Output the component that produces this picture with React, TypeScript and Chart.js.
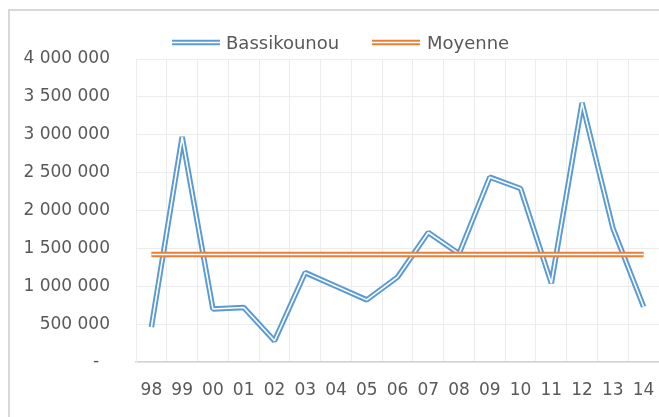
import { useEffect, useRef } from 'react';
import { Chart, registerables } from 'chart.js';

Chart.register(...registerables);

const categories = ['98', '99', '00', '01', '02', '03', '04', '05', '06', '07', '08', '09', '10', '11', '12', '13', '14'];
const bassikounou = [460000, 2970000, 700000, 720000, 280000, 1180000, 1000000, 820000, 1120000, 1710000, 1430000, 2440000, 2290000, 1040000, 3420000, 1770000, 730000];
const moyenne = [1420000, 1420000, 1420000, 1420000, 1420000, 1420000, 1420000, 1420000, 1420000, 1420000, 1420000, 1420000, 1420000, 1420000, 1420000, 1420000, 1420000];
const seriesNames = ['Bassikounou', 'Moyenne'];
const seriesColors = ['#5B9BD5', '#ED7D31'];

const FONT = '"DejaVu Sans", sans-serif';
const TEXT = '#595959';

function fmt(v: number): string {
  if (v === 0) return '-  ';
  return Math.round(v).toString().replace(/\B(?=(\d{3})+(?!\d))/g, ' ');
}

const framePlugin = {
  id: 'frameAndLegend',
  beforeDraw(chart: any) {
    const ctx = chart.ctx;
    ctx.save();
    ctx.fillStyle = '#ffffff';
    ctx.fillRect(0, 0, chart.width, chart.height);
    ctx.fillStyle = '#d9d9d9';
    ctx.fillRect(8, 9, chart.width - 8, 2);
    ctx.fillRect(8, 9, 2, chart.height - 9);
    ctx.restore();
  },
  afterDraw(chart: any) {
    const ctx = chart.ctx;
    ctx.save();
    const items = [
      { x: 172, tx: 226 },
      { x: 372, tx: 427 },
    ];
    items.forEach((it, i) => {
      ctx.lineCap = 'butt';
      ctx.strokeStyle = seriesColors[i];
      ctx.lineWidth = 5.5;
      ctx.beginPath();
      ctx.moveTo(it.x, 42.5);
      ctx.lineTo(it.x + 48, 42.5);
      ctx.stroke();
      ctx.strokeStyle = '#ffffff';
      ctx.lineWidth = 1.6;
      ctx.beginPath();
      ctx.moveTo(it.x, 42.5);
      ctx.lineTo(it.x + 48, 42.5);
      ctx.stroke();
      ctx.fillStyle = TEXT;
      ctx.font = `18px ${FONT}`;
      ctx.textBaseline = 'alphabetic';
      ctx.textAlign = 'left';
      ctx.fillText(seriesNames[i], it.tx, 49);
    });
    ctx.restore();
  },
};

export default function App() {
  const ref = useRef<HTMLCanvasElement | null>(null);

  useEffect(() => {
    if (!ref.current) return;
    const lineCommon = {
      pointRadius: 0,
      pointHoverRadius: 0,
      tension: 0,
      fill: false,
      borderCapStyle: 'butt' as const,
      borderJoinStyle: 'bevel' as const,
    };
    const chart = new Chart(ref.current, {
      type: 'line',
      data: {
        labels: categories,
        datasets: [
          { ...lineCommon, label: seriesNames[1] + ' inner', data: moyenne, borderColor: '#ffffff', borderWidth: 1.6, order: 0 },
          { ...lineCommon, label: seriesNames[1], data: moyenne, borderColor: seriesColors[1], borderWidth: 5.5, order: 1 },
          { ...lineCommon, label: seriesNames[0] + ' inner', data: bassikounou, borderColor: '#ffffff', borderWidth: 1.6, order: 2 },
          { ...lineCommon, label: seriesNames[0], data: bassikounou, borderColor: seriesColors[0], borderWidth: 5.5, order: 3 },
        ],
      },
      options: {
        responsive: false,
        animation: false,
        devicePixelRatio: 1,
        layout: { padding: { top: 59, left: 0, right: 0, bottom: 0 } },
        plugins: {
          legend: { display: false },
          tooltip: { enabled: false },
          title: { display: false },
        },
        scales: {
          x: {
            type: 'category',
            offset: true,
            grid: { color: '#ececec', lineWidth: 1, drawTicks: false, offset: true },
            border: { color: '#d4d4d4', width: 1.5 },
            ticks: { color: TEXT, font: { family: FONT, size: 17 }, padding: 18, maxRotation: 0, autoSkip: false },
            afterFit: (s: any) => { s.height = 55; s.paddingLeft = 0; s.paddingRight = 0; },
          },
          y: {
            min: 0,
            max: 4000000,
            grid: { color: '#ececec', lineWidth: 1, drawTicks: false },
            border: { color: '#ececec', width: 1 },
            ticks: {
              stepSize: 500000,
              color: TEXT,
              font: { family: FONT, size: 17 },
              padding: 26,
              callback: (v: any) => fmt(Number(v)),
            },
            afterFit: (s: any) => { s.width = 136; },
          },
        },
      },
      plugins: [framePlugin],
    });
    return () => chart.destroy();
  }, []);

  return (
    <div style={{ position: 'fixed', left: 0, top: 0, width: 659, height: 417, background: '#fff' }}>
      <canvas ref={ref} width={659} height={417} style={{ display: 'block', width: 659, height: 417 }} />
    </div>
  );
}
